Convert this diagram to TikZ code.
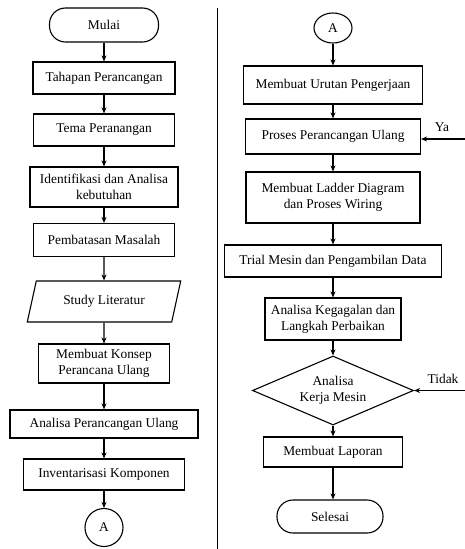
\documentclass[tikz,border=0pt]{standalone}
\usepackage{fontspec}
\setmainfont{Liberation Serif}
\usetikzlibrary{shapes.geometric,arrows.meta}
\begin{document}
\begin{tikzpicture}[x=1pt,y=-1pt,
  every node/.style={font=\fontsize{13.4}{16}\selectfont, line width=1.1pt, align=center, inner sep=0pt},
  proc/.style={draw, rectangle, minimum height=#1},
  proc/.default=32,
  term/.style={draw, rectangle, rounded corners=16pt, minimum height=34},
  io/.style={draw, trapezium, trapezium left angle=66, trapezium right angle=114, minimum height=41, trapezium stretches=true},
  con/.style={draw, ellipse},
  dec/.style={draw, diamond, aspect=2.3, minimum width=161, minimum height=69},
  arr/.style={-{Stealth[length=6pt,width=5pt]}, line width=1.1pt}]
\useasboundingbox (0,0) rectangle (465,549);
% left column
\node[term, minimum width=109] (mulai) at (104,25) {Mulai};
\node[proc, minimum width=142] (tahapan) at (104,78) {Tahapan Perancangan};
\node[proc, minimum width=141] (tema) at (104,130) {Tema Peranangan};
\node[proc=40, minimum width=148] (ident) at (104,187) {Identifikasi dan Analisa\\kebutuhan};
\node[proc=33, minimum width=141] (batas) at (104,240) {Pembatasan Masalah};
\node[io, minimum width=154] (study) at (104,301.5) {Study Literatur};
\node[proc=39, minimum width=131] (konsep) at (104,363.5) {Membuat Konsep\\Perancana Ulang};
\node[proc=28, minimum width=188] (analisa) at (104,424) {Analisa Perancangan Ulang};
\node[proc=31, minimum width=161] (invent) at (104,474.5) {Inventarisasi Komponen};
\node[con, minimum width=38, minimum height=38] (a1) at (104,527.5) {A};
\draw[arr] (mulai) -- (tahapan);
\draw[arr] (tahapan) -- (tema);
\draw[arr] (tema) -- (ident);
\draw[arr] (ident) -- (batas);
\draw[arr] (batas) -- (study);
\draw[arr] (study) -- (konsep);
\draw[arr] (konsep) -- (analisa);
\draw[arr] (analisa) -- (invent);
\draw[arr] (invent) -- (a1);
% divider
\draw[line width=1.3pt] (217.5,8) -- (217.5,549);
% right column
\node[con, minimum width=38, minimum height=30] (a2) at (333,28) {A};
\node[proc=38, minimum width=179] (urutan) at (333,85) {Membuat Urutan Pengerjaan};
\node[proc=35, minimum width=175] (proses) at (333,136.5) {Proses Perancangan Ulang};
\node[proc=51, minimum width=174] (ladder) at (333,197.5) {Membuat Ladder Diagram\\dan Proses Wiring};
\node[proc=32, minimum width=217] (trial) at (333,261) {Trial Mesin dan Pengambilan Data};
\node[proc=42, minimum width=136] (gagal) at (333,319) {Analisa Kegagalan dan\\Langkah Perbaikan};
\node[dec] (mesin) at (333,390.5) {Analisa\\Kerja Mesin};
\node[proc=30, minimum width=139] (laporan) at (333,452) {Membuat Laporan};
\node[term, minimum width=106, minimum height=33] (selesai) at (330,516.5) {Selesai};
\draw[arr] (a2) -- (urutan);
\draw[arr] (urutan) -- (proses);
\draw[arr] (proses) -- (ladder);
\draw[arr] (ladder) -- (trial);
\draw[arr] (trial) -- (gagal);
\draw[arr] (gagal) -- (mesin);
\draw[arr] (mesin) -- (laporan);
\draw[arr] (laporan) -- (laporan.south |- selesai.north);
\coordinate (yain) at (465,139);
\coordinate (tdin) at (465,390.5);
\draw[arr] (yain) -- (yain -| proses.east);
\draw[arr] (tdin) -- (mesin.east);
\node (ya) at (442,127) {Ya};
\node (tidak) at (443,379) {Tidak};
\end{tikzpicture}
\end{document}
